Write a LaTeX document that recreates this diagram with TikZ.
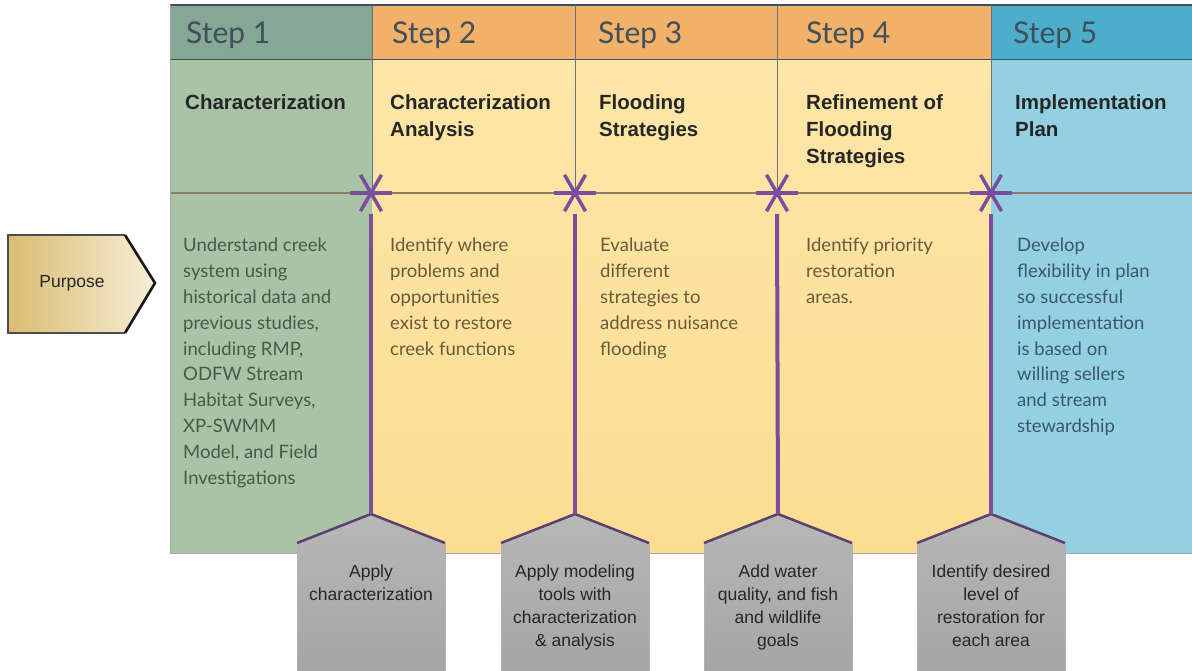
\documentclass[tikz,border=0pt]{standalone}
\usepackage{fontspec}
\setmainfont{Lato}
\newfontfamily\arialf{Liberation Sans}
\definecolor{grnH}{HTML}{86A795}
\definecolor{grnB}{HTML}{A9C3A6}
\definecolor{orH}{HTML}{F2B168}
\definecolor{yeB}{HTML}{FDE6A8}
\definecolor{yeB2}{HTML}{FBDD92}
\definecolor{blH}{HTML}{4DAECB}
\definecolor{blB}{HTML}{92D0E2}
\definecolor{purp}{HTML}{7A4E9C}
\definecolor{edgeP}{HTML}{5B3F6E}
\definecolor{gtop}{HTML}{B7B7B7}
\definecolor{gbot}{HTML}{A4A4A4}
\definecolor{hdrline}{HTML}{3F4F5C}
\definecolor{midline}{HTML}{8C7E66}
\definecolor{txtG}{HTML}{4A584B}
\definecolor{txtY}{HTML}{6A5A3C}
\definecolor{txtB}{HTML}{3C5868}
\definecolor{gold}{HTML}{DABD72}
\definecolor{cream}{HTML}{F6EED6}
\tikzset{
  steplabel/.style={anchor=base west, inner sep=0, font=\fontsize{30}{30}\selectfont, text=hdrline},
  titletext/.style={anchor=north west, inner sep=0, align=left, font=\arialf\bfseries\fontsize{20.5}{27}\selectfont, text=black!85},
  bodytext/.style={anchor=north west, inner sep=0, align=left, font=\fontsize{18.5}{25.8}\selectfont},
  boxtext/.style={anchor=north, inner sep=0, align=center, font=\arialf\fontsize{17.5}{23}\selectfont, text=black!85},
  purpline/.style={draw=purp, line width=4pt},
  starline/.style={draw=purp, line width=3.5pt},
  boxedge/.style={draw=edgeP, line width=2.5pt, line join=round},
}
\newcommand{\drawstar}[1]{%
  \draw[starline] ($(#1)+(-21,0)$) -- ($(#1)+(21,0)$);
  \draw[starline] ($(#1)+(120:21)$) -- ($(#1)+(-60:21)$);
  \draw[starline] ($(#1)+(60:21)$) -- ($(#1)+(-120:21)$);
}
\newcommand{\grayhouse}[2]{%
  \fill[top color=gtop, bottom color=gbot] (#1-74,680) -- (#1-74,543) -- (#1,#2) -- (#1+74,543) -- (#1+74,680) -- cycle;
  \draw[gray!60, line width=1pt] (#1-74,543) -- (#1-74,680) (#1+74,543) -- (#1+74,680);
  \draw[boxedge] (#1-74,543) -- (#1,#2) -- (#1+74,543);
}
\usetikzlibrary{calc}
\begin{document}
\begin{tikzpicture}[x=1pt,y=-1pt]
\useasboundingbox (0,0) rectangle (1192,671);
\fill[white] (0,0) rectangle (1192,671);
% body areas
\fill[grnB] (170,60) rectangle (372,553);
\fill[top color=yeB, bottom color=yeB2] (372,60) rectangle (991,553);
\fill[blB] (991,60) rectangle (1192,553);
% header
\fill[grnH] (170,5) rectangle (372,60);
\fill[orH] (372,5) rectangle (991,60);
\fill[blH] (991,5) rectangle (1192,60);
\draw[hdrline, line width=1.2pt] (170,5) -- (1192,5);
\draw[hdrline, line width=1pt] (170,60) -- (1192,60);
\foreach \xx in {372,575,777,991} \draw[hdrline!80, line width=0.8pt] (\xx,5) -- (\xx,193);
\draw[midline, line width=1.2pt] (170,193) -- (1192,193);
\draw[gray!70, line width=1pt] (170,5) -- (170,553) -- (1192,553);
% step labels
\node[steplabel] (st1) at (186,44) {Step 1};
\node[steplabel] (st2) at (392,44) {Step 2};
\node[steplabel] (st3) at (598,44) {Step 3};
\node[steplabel] (st4) at (806,44) {Step 4};
\node[steplabel] (st5) at (1013,44) {Step 5};
% titles
\node[titletext] (t1) at (185,94) {Characterization};
\node[titletext] (t2) at (390,94) {Characterization\\Analysis};
\node[titletext] (t3) at (599,94) {Flooding\\Strategies};
\node[titletext] (t4) at (806,94) {Refinement of\\Flooding\\Strategies};
\node[titletext] (t5) at (1015,94) {Implementation\\Plan};
% body texts
\node[bodytext, text=txtG] (b1) at (183,238) {Understand creek\\system using\\historical data and\\previous studies,\\including RMP,\\ODFW Stream\\Habitat Surveys,\\XP-SWMM\\Model, and Field\\Investigations};
\node[bodytext, text=txtY] (b2) at (390,238) {Identify where\\problems and\\opportunities\\exist to restore\\creek functions};
\node[bodytext, text=txtY] (b3) at (600,238) {Evaluate\\different\\strategies to\\address nuisance\\flooding};
\node[bodytext, text=txtY] (b4) at (806,238) {Identify priority\\restoration\\areas.};
\node[bodytext, text=txtB] (b5) at (1017,238) {Develop\\flexibility in plan\\so successful\\implementation\\is based on\\willing sellers\\and stream\\stewardship};
% purpose arrow
\fill[left color=gold, right color=cream] (8,235) -- (125,235) -- (155,283) -- (125,333) -- (8,333) -- cycle;
\draw[black!70, line width=1.2pt] (125,235) -- (8,235) -- (8,333) -- (125,333);
\draw[black!90, line width=2.6pt, line join=miter] (125,235) -- (155,283) -- (125,333);
\node[font=\arialf\fontsize{17.5}{20}\selectfont, text=black!85] (purpose) at (72,283) {Purpose};
% stars, connectors, gray boxes
\coordinate (s1) at (371,193);
\coordinate (s2) at (575,193);
\coordinate (s3) at (777,193);
\coordinate (s4) at (991,193);
\coordinate (a1) at (371,514);
\coordinate (a2) at (575,514);
\coordinate (a3) at (778,514);
\coordinate (a4) at (991,514);
\grayhouse{371}{514}
\grayhouse{575}{514}
\grayhouse{778}{514}
\grayhouse{991}{514}
\foreach \i in {1,2,3,4} {
  \draw[purpline] ($(s\i)+(0,21)$) -- (a\i);
  \drawstar{s\i}
}
\node[boxtext] (g1) at (371,565) {Apply\\characterization};
\node[boxtext] (g2) at (575,565) {Apply modeling\\tools with\\characterization\\\& analysis};
\node[boxtext] (g3) at (778,565) {Add water\\quality, and fish\\and wildlife\\goals};
\node[boxtext] (g4) at (991,565) {Identify desired\\level of\\restoration for\\each area};
\end{tikzpicture}
\end{document}
